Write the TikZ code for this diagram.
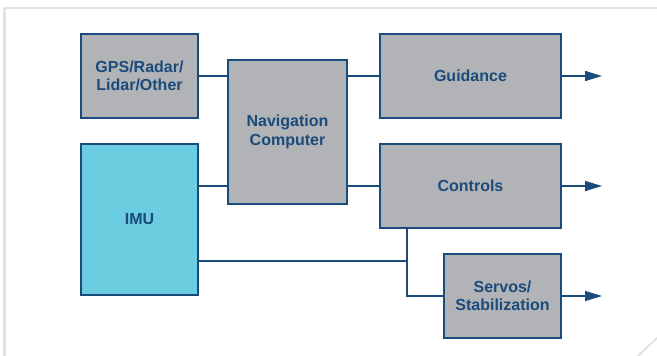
\documentclass[tikz,border=0pt]{standalone}
\usepackage{fontspec}
\setmainfont{Liberation Sans}
\usetikzlibrary{arrows.meta}
\definecolor{boxgray}{HTML}{B1B3B6}
\definecolor{navy}{HTML}{1A4B7A}
\definecolor{imucyan}{HTML}{6ACDE0}
\definecolor{framegray}{HTML}{E2E2E2}
\tikzset{
  blk/.style={draw=navy, line width=1.6pt, fill=boxgray, text=navy, align=center,
    inner sep=0pt, outer sep=0pt, font=\bfseries\fontsize{16}{18.5}\selectfont},
  wire/.style={draw=navy, line width=1.5pt},
  arr/.style={wire, -{Triangle[length=17pt,width=10pt]}},
  frame/.style={draw=framegray, line width=2.4pt}
}
\begin{document}
\begin{tikzpicture}[x=1pt,y=-1pt]
\useasboundingbox (0,0) rectangle (657,356);
% frame
\draw[frame] (4.5,356) -- (4.5,8) -- (657,8);
\draw[draw=framegray, line width=2pt] (637,357) -- (658,337);
% blocks
\node[blk, minimum width=117, minimum height=84] (gps) at (139.5,76) {GPS/Radar/\\Lidar/Other};
\node[blk, fill=imucyan, minimum width=117, minimum height=151] (imu) at (139.5,219.5) {IMU};
\node[blk, minimum width=119, minimum height=144] (nav) at (287.5,132) {Navigation\\Computer};
\node[blk, minimum width=181, minimum height=84] (gd) at (470.5,76) {Guidance};
\node[blk, minimum width=181, minimum height=84] (ctl) at (470.5,186) {Controls};
\node[blk, minimum width=117, minimum height=84] (srv) at (502.5,296) {Servos/\\Stabilization};
\coordinate (tap) at (407,261);
% connectors
\draw[wire] (gps.east) -- (gps.east -| nav.west);
\draw[wire] (nav.east |- gd.west) -- (gd.west);
\draw[wire] (imu.east |- ctl.west) -- (nav.west |- ctl.west);
\draw[wire] (nav.east |- ctl.west) -- (ctl.west);
\draw[wire] (imu.east |- tap) -- (tap);
\draw[wire] (ctl.south -| tap) -- (tap |- srv.west) -- (srv.west);
% outputs
\draw[arr] (gd.east) -- ++(41,0);
\draw[arr] (ctl.east) -- ++(41,0);
\draw[arr] (srv.east) -- ++(41,0);
\end{tikzpicture}
\end{document}
